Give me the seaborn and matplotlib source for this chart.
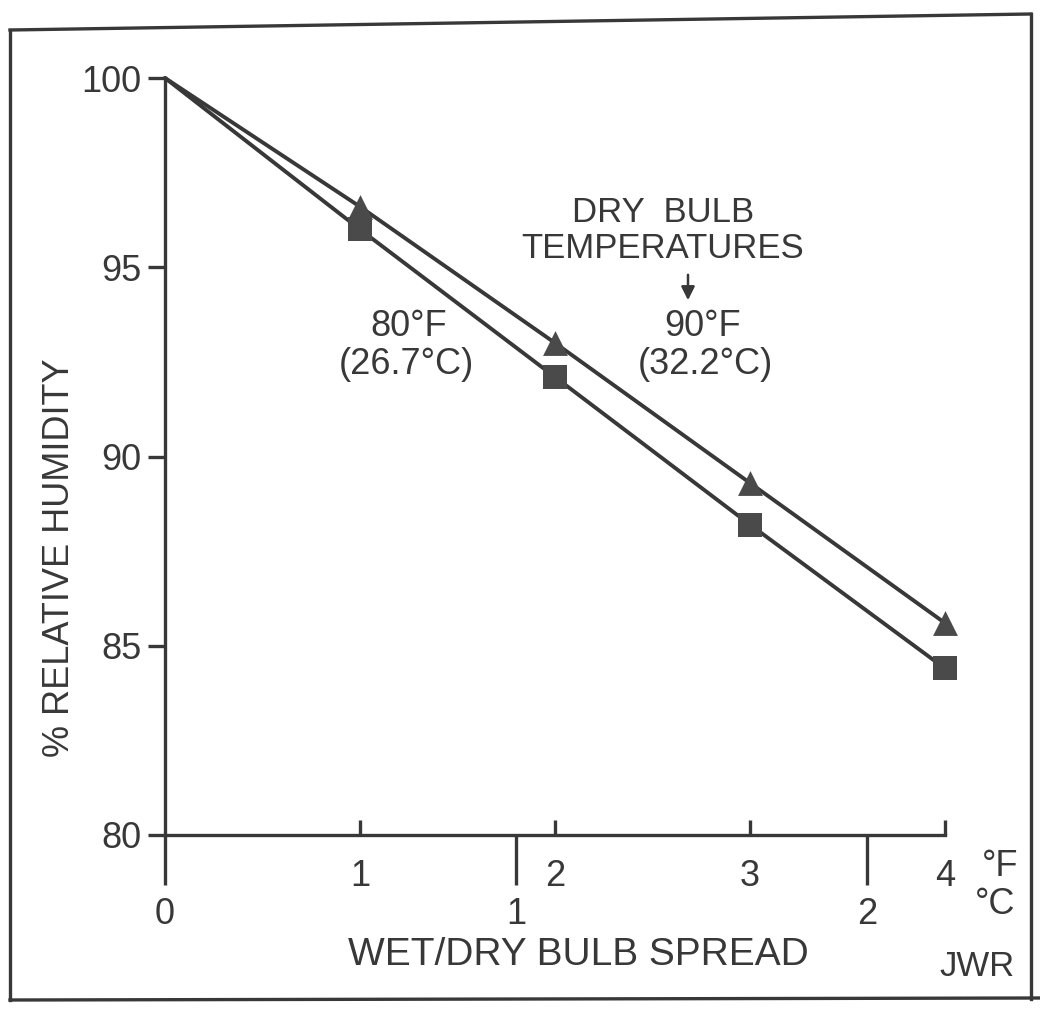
import matplotlib
matplotlib.use("Agg")
import matplotlib.pyplot as plt
import seaborn as sns
import pandas as pd
from matplotlib.lines import Line2D

# ---- data ----
spread_f = [0, 1, 2, 3, 4]
rh_80f = [100, 96.0, 92.1, 88.2, 84.4]
rh_90f = [100, 96.6, 93.0, 89.3, 85.6]
yticks = [80, 85, 90, 95, 100]
f_ticks = [1, 2, 3, 4]
c_ticks = [0, 1, 2]

sns.set_theme(style="white")
plt.rcParams['font.family'] = ['Liberation Sans', 'DejaVu Sans']

INK = "#383838"
W, H = 1040, 1014
fig = plt.figure(figsize=(W / 100, H / 100), dpi=100)
fig.patch.set_facecolor("white")

def fx(px):
    return px / W

def fy(py):
    return 1 - py / H

ax = fig.add_axes([fx(165), fy(835), fx(945) - fx(165), fy(78) - fy(835)])
ax.set_facecolor("white")

df = pd.DataFrame({
    "spread": spread_f * 2,
    "rh": rh_80f + rh_90f,
    "series": ["80F"] * len(spread_f) + ["90F"] * len(spread_f),
})
pal = {"80F": INK, "90F": INK}
sns.lineplot(data=df, x="spread", y="rh", hue="series", palette=pal,
             linewidth=2.8, legend=False, ax=ax, clip_on=False)
mk = df[df["spread"] > 0]
sns.scatterplot(data=mk[mk["series"] == "80F"], x="spread", y="rh", marker="s",
                s=320, color="#4a4a4a", edgecolor="#4a4a4a", linewidth=0,
                legend=False, ax=ax, clip_on=False, zorder=5)
sns.scatterplot(data=mk[mk["series"] == "90F"], x="spread", y="rh", marker="^",
                s=320, color="#4a4a4a", edgecolor="#4a4a4a", linewidth=0,
                legend=False, ax=ax, clip_on=False, zorder=5)

ax.set_xlim(0, 4)
ax.set_ylim(80, 100)
for s in ["top", "right"]:
    ax.spines[s].set_visible(False)
for s in ["left", "bottom"]:
    ax.spines[s].set_color(INK)
    ax.spines[s].set_linewidth(2.4)

ax.set_yticks(yticks)
ax.set_yticklabels([str(v) for v in yticks])
ax.tick_params(axis="y", direction="out", length=12, width=2.4, color=INK,
               labelsize=26, labelcolor=INK, pad=5, left=True)
ax.set_xticks(f_ticks)
ax.set_xticklabels([str(v) for v in f_ticks])
ax.tick_params(axis="x", direction="in", length=11, width=2.4, color=INK,
               labelsize=26, labelcolor=INK, pad=17, bottom=True)
ax.set_xlabel("")
ax.set_ylabel("")

# Celsius scale below the axis
sec = ax.secondary_xaxis("bottom", functions=(lambda f: f / 1.8, lambda c: c * 1.8))
sec.set_xticks(c_ticks)
sec.set_xticklabels([str(v) for v in c_ticks])
sec.tick_params(axis="x", direction="out", length=36, width=2.4, color=INK,
                labelsize=26, labelcolor=INK, pad=9)
sec.spines["bottom"].set_visible(False)

tk = dict(color=INK, ha="center", va="center")
fig.text(fx(60), fy(558), "% RELATIVE HUMIDITY", rotation=90, fontsize=26, **tk)
fig.text(fx(578), fy(955), "WET/DRY BULB SPREAD", fontsize=28, **tk)
fig.text(fx(1000), fy(866), "°F", fontsize=26, **tk)
fig.text(fx(995), fy(905), "°C", fontsize=26, **tk)
fig.text(fx(977), fy(967), "JWR", fontsize=25, **tk)

fig.text(fx(663), fy(213), "DRY  BULB", fontsize=25, **tk)
fig.text(fx(663), fy(248), "TEMPERATURES", fontsize=25, **tk)
fig.text(fx(703), fy(326), "90°F", fontsize=26, **tk)
fig.text(fx(705), fy(365), "(32.2°C)", fontsize=26, **tk)
fig.text(fx(409), fy(326), "80°F", fontsize=26, **tk)
fig.text(fx(406), fy(365), "(26.7°C)", fontsize=26, **tk)
fig.add_artist(matplotlib.patches.FancyArrowPatch(
    (fx(688), fy(272)), (fx(688), fy(303)), transform=fig.transFigure,
    arrowstyle="-|>,head_length=8,head_width=4", color=INK, lw=1.8,
    mutation_scale=1))

# hand-drawn frame
frame = [((10, 30), (1031, 14)), ((10, 30), (10, 1000)),
         ((1031, 14), (1031, 999)), ((10, 1000), (1040, 998))]
for (x0, y0), (x1, y1) in frame:
    fig.add_artist(Line2D([fx(x0), fx(x1)], [fy(y0), fy(y1)],
                          transform=fig.transFigure, color=INK, lw=2.4,
                          solid_capstyle="projecting"))

fig.savefig("out.png", dpi=100, facecolor="white")
